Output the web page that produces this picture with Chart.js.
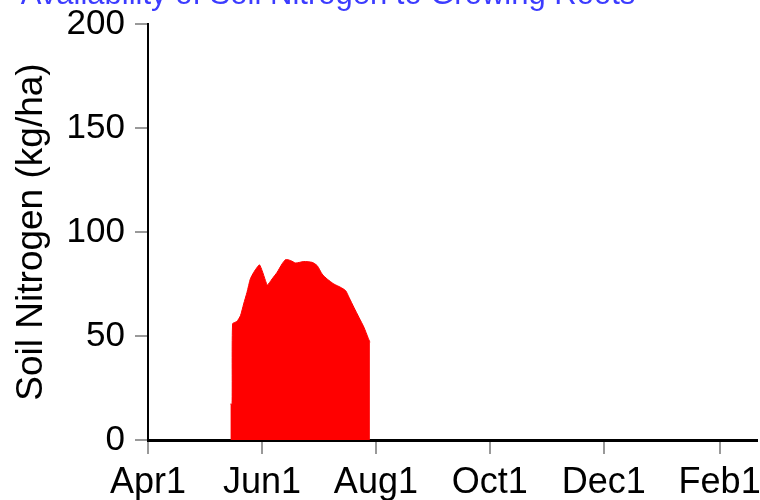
<!DOCTYPE html>
<html><head><meta charset="utf-8">
<script src="https://cdn.jsdelivr.net/npm/chart.js@4"></script>
<style>html,body{margin:0;padding:0;background:#fff}#w{width:760px;height:500px}</style>
</head><body><div id="w"><canvas id="c"></canvas></div>
<script>
const chartTitle = "Availability of Soil Nitrogen to Growing Roots";
const yTitle = "Soil Nitrogen (kg/ha)";
const tickDays = [0, 61, 122, 183, 244, 306];
const tickLabels = ["Apr1", "Jun1", "Aug1", "Oct1", "Dec1", "Feb1"];
const days = [44.1, 45.0, 45.3, 47.6, 49.5, 51.2, 53.0, 54.8, 56.6, 58.4, 59.7, 61.1, 62.9, 63.9, 66.4, 69.1, 71.8, 73.6, 76.3, 79.0, 83.4, 87.9, 90.6, 93.2, 95.9, 99.5, 103.1, 105.8, 107.6, 110.2, 112.9, 115.6, 117.7, 118.8];
const nitrogen = [17.3, 17.3, 55.9, 57.0, 59.8, 65.4, 71.0, 77.5, 80.6, 83.0, 84.2, 81.4, 76.6, 74.5, 77.4, 80.6, 84.7, 86.7, 86.3, 85.1, 85.8, 85.4, 83.8, 79.8, 77.4, 75.0, 73.4, 71.8, 68.6, 63.8, 59.0, 54.2, 49.4, 47.0];

const FONT = "'Liberation Sans', Arial, sans-serif";

const titlePlugin = {
  id: 'topTitle',
  afterDraw(chart) {
    const ctx = chart.ctx;
    ctx.save();
    ctx.font = "31px " + FONT;
    ctx.fillStyle = "#3c3cff";
    ctx.textAlign = "center";
    ctx.textBaseline = "alphabetic";
    ctx.fillText(chartTitle, 328, 4);
    ctx.restore();
  }
};

new Chart(document.getElementById('c'), {
  type: 'line',
  data: {
    datasets: [{
      data: days.map((d, i) => ({x: d, y: nitrogen[i]})),
      borderColor: '#ff0000',
      backgroundColor: '#ff0000',
      borderWidth: 1,
      pointRadius: 0,
      fill: 'origin',
      tension: 0.2
    }]
  },
  plugins: [titlePlugin],
  options: {
    responsive: true,
    maintainAspectRatio: false,
    animation: false,
    layout: {padding: {left: 0, right: 3, top: 24, bottom: 0}},
    plugins: {legend: {display: false}, tooltip: {enabled: false}},
    scales: {
      x: {
        type: 'linear', min: 0, max: 326,
        afterBuildTicks(s) { s.ticks = tickDays.map(v => ({value: v})); },
        afterFit(s) { s.height = 60; s.paddingLeft = 0; s.paddingRight = 0; },
        ticks: {
          autoSkip: false, maxRotation: 0, padding: 7,
          color: '#000', font: {family: FONT, size: 36},
          callback: (v) => tickLabels[tickDays.indexOf(v)]
        },
        grid: {display: true, drawOnChartArea: false, drawTicks: true, tickLength: 14, tickColor: '#999', lineWidth: 2},
        border: {display: true, color: '#000', width: 3}
      },
      y: {
        min: 0, max: 200,
        afterFit(s) { s.width = 148; s.paddingTop = 0; s.paddingBottom = 0; },
        ticks: {stepSize: 50, padding: 10, color: '#000', font: {family: FONT, size: 35}},
        grid: {display: true, drawOnChartArea: false, drawTicks: true, tickLength: 13, tickColor: '#999', lineWidth: 2},
        border: {display: true, color: '#000', width: 2},
        title: {display: true, text: yTitle, color: '#000', font: {family: FONT, size: 37}, padding: {top: 10, bottom: 0}}
      }
    }
  }
});
</script></body></html>
